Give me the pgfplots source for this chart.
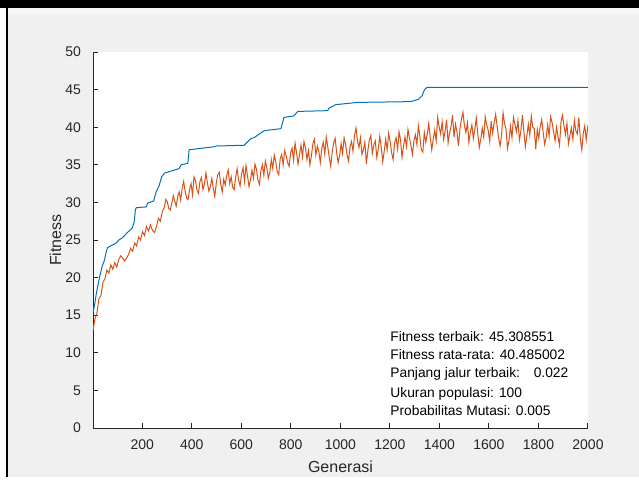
\documentclass[border=0pt]{standalone}
\usepackage{pgfplots}
\pgfplotsset{compat=1.18}
\usepackage{fontspec}
\setmainfont{Liberation Sans}
\definecolor{mblue}{rgb}{0,0.447,0.741}
\definecolor{morange}{rgb}{0.85,0.325,0.098}
\definecolor{figbg}{HTML}{F0F0F0}
\definecolor{axgray}{rgb}{0.15,0.15,0.15}

\begin{document}
\begin{tikzpicture}
% window frame, in screen pixels (1px = 0.5pt), y from the bottom
\begin{scope}[x=0.5pt,y=0.5pt]
\useasboundingbox (0,0) rectangle (639,477);
\fill[figbg] (0,0) rectangle (639,477);
\fill[white] (0,0) rectangle (6,469);
\fill[black] (6,0) rectangle (8,469);
\fill[white!96!black] (8,462) rectangle (639,469);
\fill[black] (0,469) rectangle (639,477);
\end{scope}
\begin{axis}[
  at={(46.5pt,24.5pt)}, anchor=south west,
  scale only axis, width=247.5pt, height=188pt,
  xmin=1, xmax=2000, ymin=0, ymax=50,
  axis x line*=bottom, axis y line*=left,
  axis line style={axgray, line width=0.5pt, -},
  axis background/.style={fill=white},
  xtick={200,400,...,2000}, ytick={0,5,...,50},
  tick align=inside, major tick length=2.5pt,
  tick style={axgray, line width=0.5pt},
  ticklabel style={font=\fontsize{7}{8}\selectfont, text=axgray},
  /pgf/number format/assume math mode=true,
  scaled x ticks=false,
  xticklabel style={/pgf/number format/1000 sep={}, yshift=-2.5pt},
  yticklabel style={xshift=-2.5pt},
  xlabel={Generasi}, ylabel={Fitness},
  label style={font=\fontsize{8}{9}\selectfont, text=axgray},
  xlabel style={at={(axis description cs:0.5,-0.104)}, anchor=center},
  ylabel style={at={(axis description cs:-0.076,0.5)}, anchor=center},
]
% best fitness
\addplot[mblue, line width=0.5pt] coordinates {
(1,15.3) (8,16.5) (15,18.0) (27,20.0) (38,21.5) (47,22.3) (55,23.5) (60,24.0)
(95,24.6) (105,25.0) (120,25.3) (140,26.0) (160,26.6) (168,27.5) (172,29.0)
(176,29.3) (216,29.4) (222,29.9) (246,30.2) (256,31.4) (268,32.2) (278,33.4)
(290,33.9) (320,34.2) (349,34.5) (357,35.0) (384,35.2) (389,37.0) (490,37.4)
(498,37.5) (611,37.6) (639,38.5) (651,38.6) (691,39.5) (707,39.6) (760,39.8)
(772,41.3) (812,41.5) (828,42.1) (949,42.2) (953,42.5) (981,43.0) (1070,43.3)
(1283,43.4) (1315,43.7) (1330,44.2) (1340,45.0) (1350,45.3) (2000,45.3)
};
% mean fitness
\addplot[morange, line width=0.5pt] coordinates {
(1,13.0) (9,14.5) (17,15.3) (25,17.2) (33,17.6) (41,19.4) (49,19.8) (57,21.0)
(65,20.6) (73,21.7) (81,21.1) (89,22.0) (97,21.4) (105,22.4) (113,22.9) (121,22.6)
(129,22.2) (137,22.6) (145,23.1) (153,23.9) (161,23.5) (169,24.6) (177,24.2) (185,25.4)
(193,25.0) (201,26.1) (209,25.6) (217,26.8) (225,26.2) (233,27.0) (241,26.3) (249,26.0)
(257,26.7) (265,27.9) (273,27.5) (281,28.8)
(289,29.3) (295,30.4) (301,30.1) (307,29.2) (313,29.0) (319,29.8) (325,30.9) (331,30.2)
(337,29.5) (343,30.8) (349,31.4) (355,30.3) (361,31.9) (367,32.8) (373,31.5) (379,30.6)
(385,30.4) (391,31.7) (397,32.5) (403,31.0) (409,33.4) (415,32.9) (421,31.6) (427,31.2)
(433,32.8) (439,33.3) (445,31.7) (451,32.4) (457,33.9) (463,32.6) (469,31.5) (475,32.1)
(481,33.2) (487,31.8) (493,30.8) (499,32.6) (505,33.7) (511,34.0) (517,32.4) (523,31.4)
(529,33.1) (535,32.3) (541,33.6) (547,34.3) (553,32.5) (559,33.4) (565,32.0) (571,31.7)
(577,33.3) (583,34.5) (589,33.0) (595,32.2) (601,33.8) (607,34.6) (613,32.8) (619,34.9)
(625,33.5) (631,32.1) (637,33.0) (643,34.3) (649,33.2) (655,35.1) (661,34.4) (667,33.0)
(673,32.4) (679,34.2) (685,35.0) (691,33.6) (697,35.5) (703,34.6) (709,33.2) (715,34.0)
(721,35.7) (727,34.5) (733,36.3) (739,35.4) (745,34.1) (751,33.7) (757,35.8) (763,36.4)
(769,35.0) (775,36.9) (781,36.2) (787,35.3) (793,34.8) (799,36.6) (805,37.2) (811,35.6)
(817,37.9) (823,36.6) (829,35.1) (835,36.4) (841,37.6) (847,36.0) (853,38.1) (859,37.3)
(865,35.7) (871,36.9) (877,35.0) (883,36.2) (889,37.8) (895,38.4) (901,36.3) (907,37.5)
(913,36.8) (919,35.3) (925,37.2) (931,38.0) (937,36.4) (943,38.7) (949,37.4) (955,36.0)
(961,34.8) (967,36.7) (973,37.9) (979,38.5) (985,36.6) (991,35.3) (997,36.2) (1003,37.8)
(1009,36.5) (1015,38.6) (1021,37.7) (1027,36.3) (1033,35.5) (1039,37.4) (1045,38.1) (1051,36.8)
(1057,38.9) (1063,39.9) (1069,38.2) (1075,37.3) (1081,38.6) (1087,36.4) (1093,37.0) (1099,38.0)
(1105,35.1) (1111,36.9) (1117,38.3) (1123,38.9) (1129,36.5) (1135,37.6) (1141,38.2) (1147,36.0)
(1153,37.1) (1159,38.8) (1165,37.3) (1171,35.4) (1177,36.8) (1183,38.4) (1189,37.0) (1195,39.2)
(1201,38.1) (1207,36.6) (1213,35.7) (1219,37.9) (1225,38.6) (1231,37.1) (1237,39.4) (1243,38.3)
(1249,36.0) (1255,37.5) (1261,38.7) (1267,37.4) (1273,39.7) (1279,38.5) (1285,37.6) (1291,36.4)
(1297,38.2) (1303,39.0) (1309,37.7) (1315,40.2) (1321,38.8) (1327,37.0) (1333,36.7) (1339,39.3)
(1345,38.0) (1351,39.1) (1357,40.5) (1363,38.6) (1369,37.0) (1375,38.4) (1381,39.6) (1387,38.2)
(1393,41.3) (1399,40.0) (1405,39.1) (1411,40.7) (1417,38.4) (1423,39.5) (1429,41.0) (1435,37.9)
(1441,39.2) (1447,40.1) (1453,41.6) (1459,38.7) (1465,40.4) (1471,39.3) (1477,37.5) (1483,39.8)
(1489,41.1) (1495,42.0) (1501,40.2) (1507,39.3) (1513,40.6) (1519,38.0) (1525,39.4) (1531,40.3)
(1537,38.5) (1543,39.7) (1549,41.2) (1555,39.1) (1561,37.3) (1567,38.4) (1573,39.9) (1579,38.7)
(1585,41.4) (1591,40.3) (1597,39.6) (1603,38.1) (1609,40.8) (1615,39.2) (1621,40.6) (1627,41.7)
(1633,40.2) (1639,38.6) (1645,37.5) (1651,39.0) (1657,41.9) (1663,40.5) (1669,39.7) (1675,37.2)
(1681,38.3) (1687,40.1) (1693,38.6) (1699,41.3) (1705,40.4) (1711,39.4) (1717,40.9) (1723,38.3)
(1729,39.5) (1735,41.6) (1741,39.5) (1747,37.4) (1753,38.8) (1759,40.4) (1765,38.9) (1771,41.5)
(1777,40.0) (1783,39.8) (1789,37.1) (1795,39.7) (1801,38.5) (1807,40.1) (1813,41.0) (1819,39.3)
(1825,37.7) (1831,38.6) (1837,40.3) (1843,38.8) (1849,41.4) (1855,40.6) (1861,39.4) (1867,38.2)
(1873,40.0) (1879,38.7) (1885,37.6) (1891,40.7) (1897,41.6) (1903,40.2) (1909,39.0) (1915,40.5)
(1921,37.8) (1927,38.9) (1933,39.9) (1939,38.4) (1945,40.9) (1951,39.5) (1957,39.1) (1963,41.3)
(1969,38.5) (1975,37.0) (1981,39.2) (1987,40.2) (1993,38.3) (2000,40.3)
};
\begin{scope}[every node/.style={anchor=base west, inner sep=0pt, font=\fontsize{6.9}{8}\selectfont}]
\node at (rel axis cs:0.6,0.231) {Fitness terbaik: 45.308551};
\node at (rel axis cs:0.6,0.181) {Fitness rata-rata: 40.485002};
\node at (rel axis cs:0.6,0.133) {Panjang jalur terbaik:\hspace{1em}0.022};
\node at (rel axis cs:0.6,0.082) {Ukuran populasi: 100};
\node at (rel axis cs:0.6,0.032) {Probabilitas Mutasi: 0.005};
\end{scope}
\end{axis}
\end{tikzpicture}
\end{document}
